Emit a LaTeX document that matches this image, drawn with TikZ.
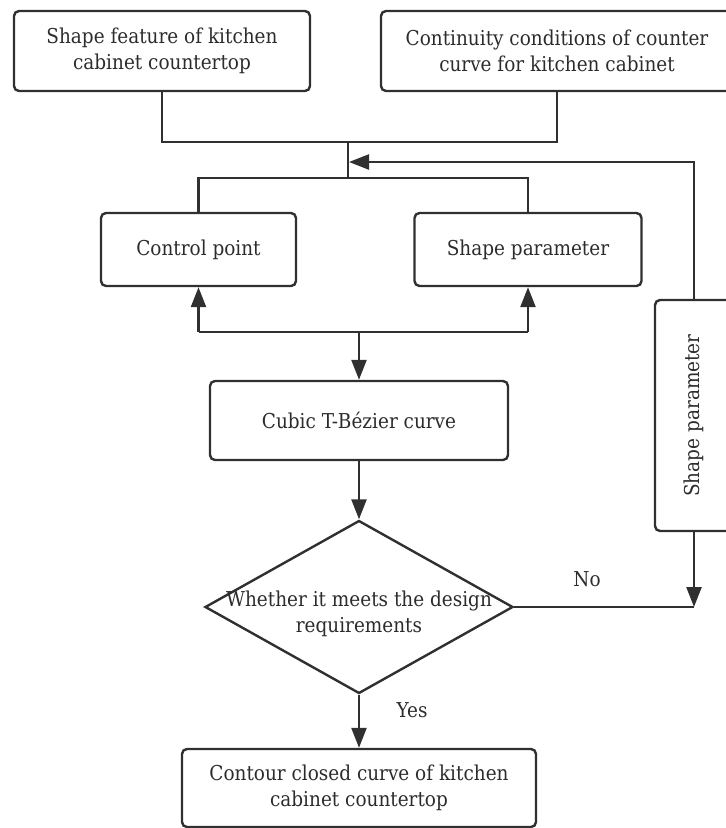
\documentclass[tikz,border=0pt]{standalone}
\usepackage{fontspec}
\setmainfont{DejaVu Serif}[FakeStretch=0.9]
\usetikzlibrary{arrows.meta,shapes.geometric}
\definecolor{ink}{HTML}{303030}
\definecolor{txt}{HTML}{2C2C2C}
\newcommand{\myfont}{\fontsize{20.5}{26}\selectfont}
\tikzset{
  box/.style={draw=ink, rounded corners=5pt, line width=2.4pt, align=center, font=\myfont, text=txt, inner sep=0pt},
  lbl/.style={font=\myfont, text=txt},
  ln/.style={draw=ink, line width=2.4pt},
  arr/.style={ln, -{Triangle[length=20pt,width=15pt]}}
}
\begin{document}
\begin{tikzpicture}[x=1pt,y=-1pt]
\useasboundingbox (0,0) rectangle (726,828);
\clip (0,0) rectangle (726,828);
\node[box, minimum width=296pt, minimum height=80pt] (b1) at (162,51) {Shape feature of kitchen\\cabinet countertop};
\node[box, minimum width=352pt, minimum height=80pt] (b2) at (557,51) {Continuity conditions of counter\\curve for kitchen cabinet};
\node[box, minimum width=195pt, minimum height=73pt] (cp) at (198.5,249.5) {Control point};
\node[box, minimum width=227pt, minimum height=73pt] (sp) at (528,249.5) {Shape parameter};
\node[box, minimum width=78pt, minimum height=231pt] (vb) at (694,415.5) {};
\node[lbl, rotate=90] (vbt) at (vb.center) {Shape parameter};
\node[box, minimum width=298pt, minimum height=79pt] (cb) at (359,420.5) {Cubic T-Bézier curve};
\node[diamond, draw=ink, line width=2.4pt, minimum width=308pt, minimum height=173pt, inner sep=0pt] (d) at (359,607) {};
\node[lbl, align=center] (dt) at (359,614) {Whether it meets the design\\requirements};
\node[box, minimum width=354pt, minimum height=78pt] (fb) at (359,788) {Contour closed curve of kitchen\\cabinet countertop};
\node[lbl] (no) at (587,579) {No};
\node[lbl] (yes) at (412,710) {Yes};
\coordinate (j) at (348,142);
\coordinate (j2) at (348,178);
\coordinate (fb1) at (694,162);
\coordinate (j3) at (359,332);
\draw[ln] (b1.south) -- (b1.south |- j) -- (b2.south |- j) -- (b2.south);
\draw[ln] (j) -- (j2);
\draw[ln] (cp.north) -- (cp.north |- j2) -- (sp.north |- j2) -- (sp.north);
\draw[arr] (vb.north) -- (vb.north |- fb1) -- ([xshift=1pt]j |- fb1);
\draw[ln] (cp.south |- j3) -- (sp.south |- j3);
\draw[arr] (cp.south |- j3) -- (cp.south);
\draw[arr] (sp.south |- j3) -- (sp.south);
\draw[arr] (j3) -- (j3 |- cb.north);
\draw[arr] (cb.south) -- (d.north);
\draw[ln] (d.east) -- (d.east -| vb.south);
\draw[arr] (vb.south) -- (d.east -| vb.south);
\draw[arr] (d.south) -- (fb.north);
\end{tikzpicture}
\end{document}
